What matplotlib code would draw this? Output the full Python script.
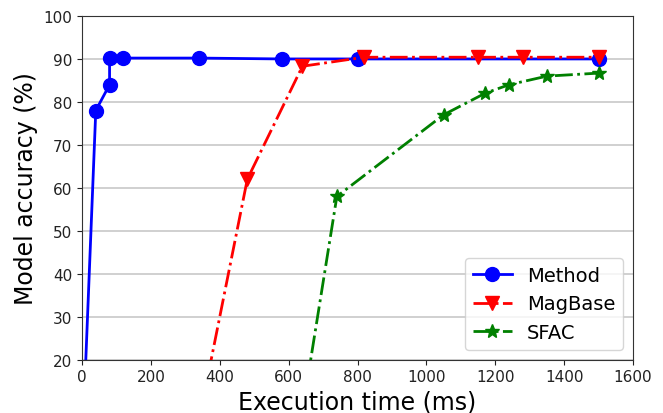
import matplotlib
matplotlib.use("Agg")
import matplotlib.pyplot as plt

# execution time (ms) vs model accuracy (%)
method_x = [10, 40, 80, 80, 120, 340, 580, 800, 1500]
method_y = [18, 78, 84, 90.2, 90.2, 90.2, 90.0, 90.0, 90.0]

magbase_x = [350, 480, 640, 820, 1150, 1280, 1500]
magbase_y = [10, 62, 88.3, 90.4, 90.4, 90.4, 90.4]

sfac_x = [640, 740, 1050, 1170, 1240, 1350, 1500]
sfac_y = [8, 58, 77, 82, 84, 86, 86.7]

fig = plt.figure(figsize=(6.63, 4.14), dpi=100)
ax = fig.add_axes([0.1237, 0.1287, 0.9548 - 0.1237, 0.959 - 0.1287])

ax.plot(method_x, method_y, "-", color="blue", marker="o", markersize=10,
        linewidth=2, label="Method")
ax.plot(magbase_x, magbase_y, "-.", color="red", marker="v", markersize=10,
        linewidth=2, label="MagBase")
ax.plot(sfac_x, sfac_y, "-.", color="green", marker="*", markersize=10,
        linewidth=2, label="SFAC")

ax.set_xlim(0, 1600)
ax.set_ylim(20, 100)
ax.set_xticks(range(0, 1601, 200))
ax.set_yticks(range(20, 101, 10))
ax.tick_params(labelsize=11, colors="#222222")
for s in ax.spines.values():
    s.set_color("#333333")
ax.yaxis.grid(True, color="#c8c8c8", linewidth=1.2)
ax.set_axisbelow(True)

ax.set_xlabel("Execution time (ms)", fontsize=17)
ax.set_ylabel("Model accuracy (%)", fontsize=17)
ax.legend(loc="lower right", fontsize=14)

fig.savefig("out.png", dpi=100)
